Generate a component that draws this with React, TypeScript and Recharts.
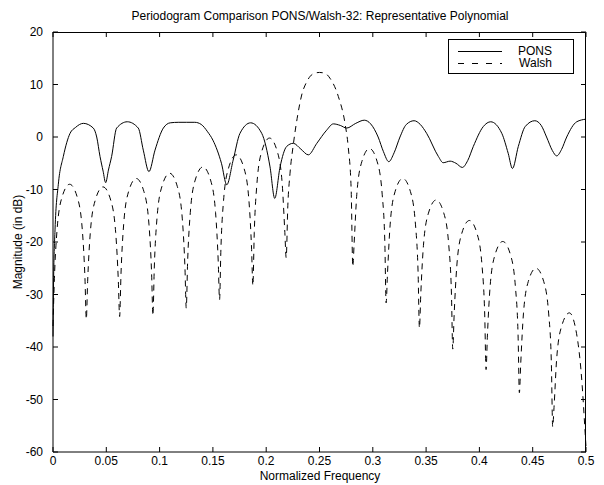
import { Line, LineChart, XAxis, YAxis } from "recharts";

const FONT = "'Liberation Sans', Arial, Helvetica, sans-serif";

const xTicks = [0, 0.05, 0.1, 0.15, 0.2, 0.25, 0.3, 0.35, 0.4, 0.45, 0.5];
const yTicks = [-60, -50, -40, -30, -20, -10, 0, 10, 20];

// [normalized frequency, magnitude dB]
const ponsPoints: [number, number][] = [
  [0, -38], [0.0005, -28], [0.0019, -17.7], [0.005, -9], [0.0097, -3.7],
  [0.016, 0.7], [0.021, 1.8], [0.0285, 2.6], [0.0378, 1.7], [0.041, 0],
  [0.0441, -3.7], [0.047, -6.5], [0.0494, -8.7], [0.052, -6.3], [0.055, -3.7],
  [0.0597, 1.7], [0.0697, 2.9], [0.08, 1.7], [0.0847, -2.5], [0.09, -6.6],
  [0.0957, -2.5], [0.1035, 1.7], [0.11, 2.7], [0.118, 2.8], [0.125, 2.8],
  [0.133, 2.8], [0.139, 2.4], [0.145, 1], [0.15, -0.6], [0.158, -5],
  [0.163, -9.1], [0.169, -4.4], [0.1754, 0.7], [0.1854, 2.7], [0.1958, 0.7],
  [0.2036, -5.7], [0.208, -11.7], [0.213, -5.7], [0.2192, -1.8], [0.2254, -1.2],
  [0.2325, -2.3], [0.2395, -3.4], [0.2475, -1.2], [0.2567, 1.3], [0.263, 2.5],
  [0.2695, 2.2], [0.2755, 1.7], [0.284, 2.6], [0.292, 3.2], [0.298, 2.5],
  [0.305, 0], [0.31, -2.8], [0.315, -4.7], [0.32, -3], [0.3255, 0],
  [0.3315, 2.4], [0.3387, 3.1], [0.3445, 2.4], [0.3505, 0.7], [0.3615, -3.7],
  [0.366, -4.9], [0.3725, -4.6], [0.378, -5], [0.384, -5.8], [0.389, -4.5],
  [0.3943, -1.8], [0.4037, 2], [0.4106, 2.9], [0.421, 0.7], [0.427, -3.1],
  [0.431, -6], [0.4365, -1.8], [0.443, 2], [0.452, 3.1], [0.458, 2.2],
  [0.463, 0], [0.4685, -2.6], [0.4725, -3.6], [0.477, -2.4], [0.4819, 0],
  [0.4913, 2.9], [0.5, 3.4],
];

const walshPoints: [number, number][] = [
  [0, -36], [0.0013, -27], [0.0038, -17.7], [0.0084, -11.5], [0.0156, -9],
  [0.0228, -11.5], [0.0275, -17.7], [0.03, -27],
  [0.03125, -34.7], [0.0325, -27.5], [0.035, -18.2], [0.0397, -12], [0.0469, -9.5],
  [0.0541, -12], [0.0588, -18.2], [0.0613, -27.5],
  [0.0625, -34.2], [0.0638, -26], [0.0663, -16.6], [0.0709, -10.4], [0.0781, -7.9],
  [0.0853, -10.4], [0.09, -16.6], [0.0925, -26],
  [0.09375, -34], [0.095, -25], [0.0975, -15.6], [0.1022, -9.4], [0.1094, -6.9],
  [0.1166, -9.4], [0.1213, -15.6], [0.1238, -25],
  [0.125, -32.6], [0.1263, -23.7], [0.1288, -14.4], [0.1334, -8.2], [0.1406, -5.7],
  [0.1478, -8.2], [0.1525, -14.4], [0.155, -23.7],
  [0.15625, -31], [0.1575, -21.4], [0.16, -12.1], [0.1647, -5.9], [0.1719, -3.4],
  [0.1791, -5.9], [0.1838, -12.1], [0.1863, -21.4],
  [0.1875, -28.3], [0.1888, -18.2], [0.1913, -8.9], [0.1959, -2.7], [0.2031, -0.2],
  [0.2103, -2.7], [0.215, -8.9], [0.2175, -18.2],
  [0.21875, -23], [0.2203, -13], [0.2223, -7], [0.2254, -1.5], [0.229, 3.5],
  [0.2333, 8], [0.238, 10.5], [0.2447, 12.1], [0.25, 12.3], [0.2555, 12.1],
  [0.2598, 11.2], [0.2677, 7.7], [0.274, 2.5], [0.277, -2], [0.2797, -10],
  [0.28125, -24.7], [0.2825, -20.2], [0.285, -10.9], [0.2897, -4.7], [0.2969, -2.2],
  [0.3041, -4.7], [0.3088, -10.9], [0.3113, -20.2],
  [0.3125, -31.6], [0.3138, -25.9], [0.3163, -16.6], [0.3209, -10.4], [0.3281, -7.9],
  [0.3353, -10.4], [0.34, -16.6], [0.3425, -25.9],
  [0.34375, -36.4], [0.345, -30], [0.3475, -20.7], [0.3522, -14.5], [0.3594, -12],
  [0.3666, -14.5], [0.3713, -20.7], [0.3738, -30],
  [0.375, -40.4], [0.3763, -33.9], [0.3788, -24.6], [0.3834, -18.4], [0.3906, -15.9],
  [0.3978, -18.4], [0.4025, -24.6], [0.405, -33.9],
  [0.40625, -44.3], [0.4075, -37.9], [0.41, -28.6], [0.4147, -22.4], [0.4219, -19.9],
  [0.4291, -22.4], [0.4338, -28.6], [0.4363, -37.9],
  [0.4375, -48.7], [0.4388, -43], [0.4413, -33.7], [0.4459, -27.5], [0.4531, -25],
  [0.4603, -27.5], [0.465, -33.7], [0.4675, -43],
  [0.46875, -55.2], [0.47, -51.5], [0.4725, -42.2], [0.4772, -36], [0.4844, -33.5],
  [0.4916, -38], [0.4963, -47], [0.4988, -55], [0.5, -59],
];

const ponsData = ponsPoints.map(([f, db]) => ({ f, db }));
const walshData = walshPoints.map(([f, db]) => ({ f, db }));

const X_MIN = 0;
const X_MAX = 0.5;
const Y_MIN = -60;
const Y_MAX = 20;

const W = 604;
const H = 485;
const MARGIN = { top: 32, right: 18, bottom: 0, left: 8 };
const Y_AXIS_W = 45;
const X_AXIS_H = 33;
const PL = MARGIN.left + Y_AXIS_W;
const PR = W - MARGIN.right;
const PT = MARGIN.top;
const PB = H - MARGIN.bottom - X_AXIS_H;
const TICK = 5;

const px = (v: number) => PL + ((v - X_MIN) / (X_MAX - X_MIN)) * (PR - PL);
const py = (v: number) => PB - ((v - Y_MIN) / (Y_MAX - Y_MIN)) * (PB - PT);

// box + inward ticks as one path
const framePath =
  `M${PL},${PT + 0.5}H${PR - 0.5}V${PB}` +
  xTicks.map((t) => `M${px(t)},${PB}V${PB - TICK}M${px(t)},${PT}V${PT + TICK}`).join("") +
  yTicks.map((t) => `M${PL},${py(t)}H${PL + TICK}M${PR},${py(t)}H${PR - TICK}`).join("");

const tickStyle = { fill: "#000", fontSize: 12, fontFamily: FONT };

export default function App() {
  return (
    <div style={{ position: "absolute", left: 0, top: 0, width: W, height: H, background: "#fff" }}>
      <LineChart width={W} height={H} margin={MARGIN}>
        <XAxis
          dataKey="f"
          type="number"
          domain={[X_MIN, X_MAX]}
          ticks={xTicks}
          interval={0}
          height={X_AXIS_H}
          tickSize={-5}
          tickMargin={9}
          tickLine={false}
          tick={tickStyle}
          stroke="#000"
        />
        <YAxis
          type="number"
          domain={[Y_MIN, Y_MAX]}
          ticks={yTicks}
          interval={0}
          width={Y_AXIS_W}
          tickSize={-5}
          tickMargin={15}
          tickLine={false}
          tick={tickStyle}
          stroke="#000"
        />
        <Line
          data={walshData}
          dataKey="db"
          type="monotone"
          stroke="#000"
          strokeWidth={1}
          strokeDasharray="6 5"
          dot={false}
          isAnimationActive={false}
        />
        <Line
          data={ponsData}
          dataKey="db"
          type="monotone"
          stroke="#000"
          strokeWidth={1}
          dot={false}
          isAnimationActive={false}
        />
      </LineChart>

      <svg
        width={W}
        height={H}
        style={{ position: "absolute", left: 0, top: 0, pointerEvents: "none" }}
        fontFamily={FONT}
        fontSize={12}
      >
        <path d={framePath} stroke="#000" strokeWidth={1} fill="none" />

        <text x={320} y={20} textAnchor="middle" fill="#000">
          Periodogram Comparison PONS/Walsh-32: Representative Polynomial
        </text>
        <text x={320} y={480} textAnchor="middle" fill="#000">
          Normalized Frequency
        </text>
        <text x={22} y={242} textAnchor="middle" fill="#000" transform="rotate(-90 22 242)">
          Magnitude (in dB)
        </text>

        <rect x={448.5} y={39.5} width={125} height={34} fill="#fff" stroke="#000" />
        <line x1={458} y1={51.5} x2={502} y2={51.5} stroke="#000" />
        <line x1={458} y1={63.5} x2={502} y2={63.5} stroke="#000" strokeDasharray="6 8" />
        <text x={552} y={55} textAnchor="end" fill="#000">PONS</text>
        <text x={552} y={67} textAnchor="end" fill="#000">Walsh</text>
      </svg>
    </div>
  );
}
